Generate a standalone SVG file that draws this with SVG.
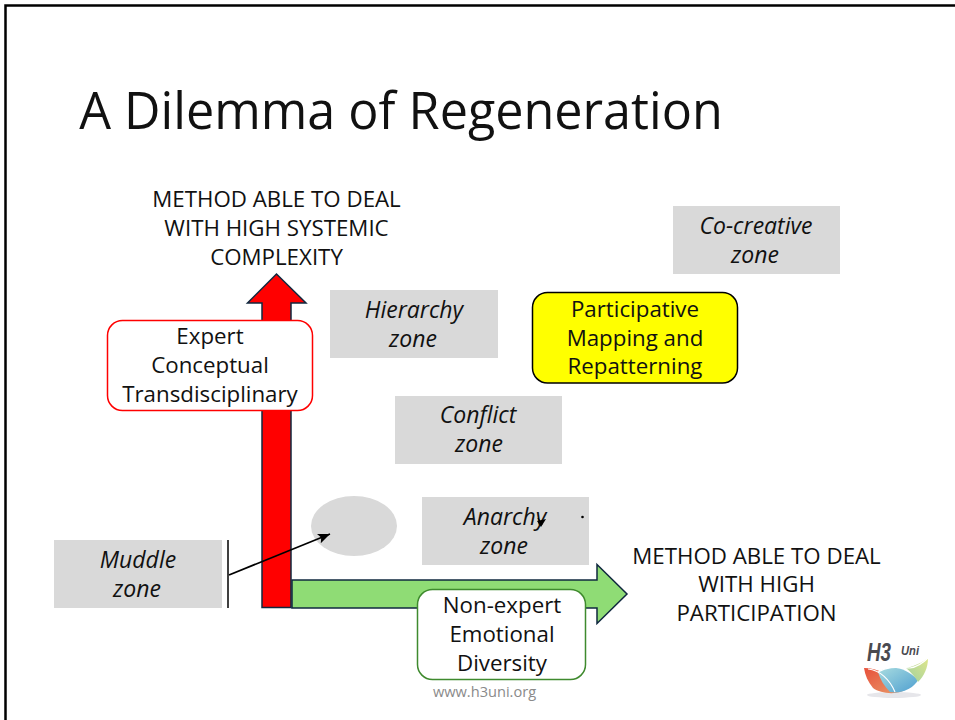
<svg xmlns="http://www.w3.org/2000/svg" width="955" height="720" viewBox="0 0 955 720">
<style>
text{font-family:"Open Sans","Liberation Sans",sans-serif;font-size:22.3px;fill:#111;text-anchor:middle}
.z{fill:#d9d9d9}
.i{font-style:italic;font-size:23px}
.ar{stroke:#10283f;stroke-width:1.5}
.lg{font-family:"Liberation Sans",sans-serif;font-style:italic;fill:#4a4a50;text-anchor:start}
</style>
<defs>
<marker id="a" markerWidth="13" markerHeight="11" refX="12" refY="5" orient="auto" markerUnits="userSpaceOnUse"><path d="M0 0L12 5L0 10L2.500 5Z" fill="#000"/></marker>
<linearGradient id="r" x1="0" y1="0" x2="1" y2="1"><stop offset="0" stop-color="#e8503a"/><stop offset="1" stop-color="#e89a6a"/></linearGradient>
<linearGradient id="b" x1="0" y1="0" x2="1" y2="1"><stop offset="0" stop-color="#a8dce0"/><stop offset="1" stop-color="#4f9fd0"/></linearGradient>
<linearGradient id="g" x1="1" y1="0" x2="0" y2="1"><stop offset="0" stop-color="#dfe68a"/><stop offset="1" stop-color="#9fd0a0"/></linearGradient>
</defs>
<rect width="955" height="720" fill="#fff"/>
<path d="M5.500 720V5.500H955" fill="none" stroke="#000" stroke-width="2.500"/>
<text id="title" x="401" y="128.500" style="font-size:50.300px">A Dilemma of Regeneration</text>
<g id="axis-y"><path class="ar" fill="#f00" d="M262 607.500V303H247.500L276.500 274L306 303H291V607.500Z"/></g>
<g id="axis-x"><path class="ar" fill="#8fdc75" d="M292 580H597V564.500L627 594L597 623.500V608H292Z"/></g>
<g id="label-y"><text x="276.500" y="207">METHOD ABLE TO DEAL</text><text x="276.500" y="236">WITH HIGH SYSTEMIC</text><text x="276.500" y="265">COMPLEXITY</text></g>
<g id="label-x"><text x="756.500" y="564">METHOD ABLE TO DEAL</text><text x="756.500" y="592">WITH HIGH</text><text x="756.500" y="621">PARTICIPATION</text></g>
<g id="cocreative"><rect class="z" x="673" y="206" width="167" height="68"/><text class="i" x="756" y="233.500">Co-creative</text><text class="i" x="755" y="262.500">zone</text></g>
<g id="hierarchy"><rect class="z" x="330" y="290" width="168" height="68"/><text class="i" x="414" y="317.500">Hierarchy</text><text class="i" x="413" y="346.500">zone</text></g>
<g id="conflict"><rect class="z" x="395" y="396" width="167" height="68"/><text class="i" x="478" y="422.500">Conflict</text><text class="i" x="479" y="451.500">zone</text></g>
<g id="anarchy"><rect class="z" x="422" y="497" width="167" height="68"/><text class="i" x="505" y="524.500">Anarchy</text><text class="i" x="504" y="553.500">zone</text><circle cx="582.500" cy="517" r="1.300" fill="#000"/></g>
<g id="muddle"><rect class="z" x="54" y="540" width="168" height="68"/><text class="i" x="138" y="567.500">Muddle</text><text class="i" x="137" y="596.500">zone</text></g>
<g id="blob"><ellipse class="z" cx="354" cy="526" rx="43" ry="30"/></g>
<g id="participative"><rect x="532.500" y="292.500" width="205" height="90.500" rx="15" fill="#ff0" stroke="#000" stroke-width="1.500"/><text x="635" y="317">Participative</text><text x="635" y="346">Mapping and</text><text x="635" y="374">Repatterning</text></g>
<g id="expert"><rect x="107.500" y="320.500" width="205" height="90" rx="15" fill="#fff" stroke="#f00" stroke-width="1.500"/><text x="210" y="344">Expert</text><text x="210" y="373">Conceptual</text><text x="210" y="402">Transdisciplinary</text></g>
<g id="nonexpert"><rect x="417.500" y="589.500" width="168" height="90" rx="15" fill="#fff" stroke="#3f8a2e" stroke-width="1.500"/><text x="502" y="613">Non-expert</text><text x="502" y="642">Emotional</text><text x="502" y="671">Diversity</text></g>
<g id="connectors" fill="none" stroke="#000"><path d="M228 540V608" stroke-width="1.500"/><path d="M229 575L330 534" stroke-width="1.700" marker-end="url(#a)"/><path d="M538 518L542 525" stroke-width="1.200"/><path d="M537 521L546 519L541 527Z" fill="#000" stroke="none"/></g>
<text id="url" x="484.500" y="697" style="font-size:14.600px;fill:#8a8a8a">www.h3uni.org</text>
<g id="logo">
<ellipse cx="894" cy="695" rx="27" ry="3" fill="#e6e6ea"/>
<path d="M864 668C878 668 890 675 897 683C900 687 902 690 903 691C893 695 880 693 873 688C868 682 865 675 864 668Z" fill="url(#r)"/>
<path d="M878 672C892 664 906 668 918 680C914 688 902 694 890 692C884 686 880 679 878 672Z" fill="url(#b)"/>
<path d="M906 668C915 666 923 662 928 658C928 668 924 676 918 682C915 677 911 672 906 668Z" fill="url(#g)"/>
<path d="M868 669C880 670 890 680 895 692M878 672C890 665 900 668 910 668C917 667 924 662 928 658" fill="none" stroke="#fff" stroke-width="1.200"/>
<text class="lg" x="867" y="661" textLength="24" lengthAdjust="spacingAndGlyphs" style="font-size:25px;font-weight:bold">H3</text>
<text class="lg" x="901" y="655" textLength="18" lengthAdjust="spacingAndGlyphs" style="font-size:13px;font-weight:bold">Uni</text>
</g>
</svg>
